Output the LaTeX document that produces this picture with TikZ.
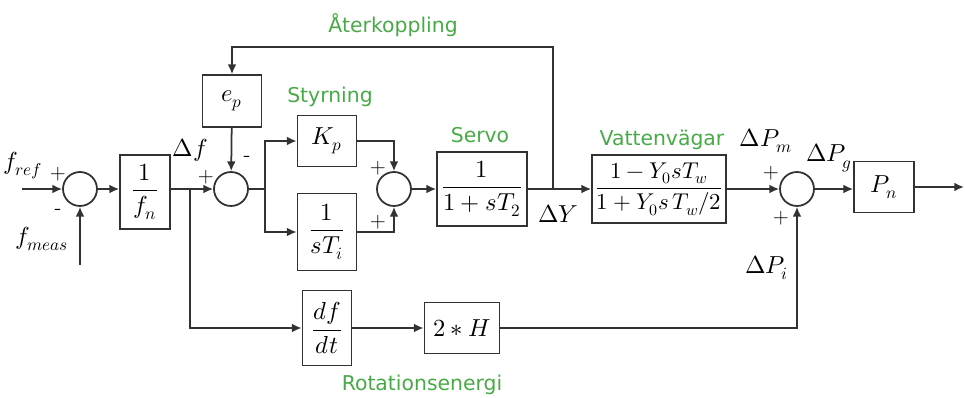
\documentclass[tikz,border=0pt]{standalone}
\usepackage{amsmath}
\usepackage{fontspec}
\usepackage{unicode-math}
\setmathfont{Latin Modern Math}
\usepackage{tikz}
\usetikzlibrary{arrows.meta}
\newfontfamily\lblfont{DejaVu Sans}
\definecolor{lblgreen}{RGB}{72,170,70}
\definecolor{linegray}{RGB}{50,50,50}
\newcommand{\mathsz}{\fontsize{14}{17}\selectfont}
\tikzset{node distance=2.0cm, auto}
\tikzset{
  block/.style={draw=linegray, line width=1pt, inner sep=0pt, font=\mathsz},
  sumnode/.style={draw=linegray, line width=1pt, circle, minimum size=0.68cm, inner sep=0pt},
  grlabel/.style={text=lblgreen, font=\lblfont\fontsize{11.6}{14}\selectfont},
  sgn/.style={font=\large, inner sep=0pt},
  sig/.style={font=\mathsz, inner sep=0pt},
  conn/.style={draw=linegray, line width=1pt},
  arr/.style={conn, -{Latex[length=5.5pt,width=5pt]}}
}

\begin{document}
\begin{tikzpicture}[x=0.02cm, y=-0.02cm]
\useasboundingbox (0,0) rectangle (965,398);

% summation points
\node[sumnode] (s1) at (80,189) {};
\node[sumnode] (s2) at (231,189) {};
\node[sumnode] (s3) at (394,189) {};
\node[sumnode] (s4) at (797,189) {};

% blocks
\node[block, minimum width=1cm, minimum height=1.48cm] (fn) at (145,192) {$\dfrac{1}{f_n}$};
\node[block, minimum width=1.18cm, minimum height=1.04cm] (ep) at (232,101) {$e_p$};
\node[block, minimum width=1.18cm, minimum height=1.02cm] (kp) at (327,141) {$K_p$};
\node[block, minimum width=1.18cm, minimum height=1.54cm] (sti) at (327,232) {$\dfrac{1}{sT_i}$};
\node[block, minimum width=1.8cm, minimum height=1.48cm] (servo) at (482,189) {$\dfrac{1}{1+sT_2}$};
\node[block, minimum width=2.68cm, minimum height=1.36cm, font=\fontsize{13}{16}\selectfont] (vat) at (659,189) {$\dfrac{1-Y_0sT_w}{1+Y_0s\,T_w/2}$};
\node[block, minimum width=1.2cm, minimum height=1.02cm] (pn) at (884,187) {$P_n$};
\node[block, minimum width=0.98cm, minimum height=1.5cm] (dfdt) at (327,328) {$\dfrac{df}{dt}$};
\node[block, minimum width=1.5cm, minimum height=1.02cm] (twoH) at (462,328) {$2*H$};

% free ends and branch points
\coordinate (in) at (22,189);
\coordinate (meas) at (80,265);
\coordinate (out) at (964,187);
\coordinate (b1) at (190,189);
\coordinate (b2) at (265,189);
\coordinate (b3) at (553,189);
\coordinate (top) at (553,47);
\coordinate (low) at (190,328);

% connectors
\draw[arr] (in) -- (s1);
\draw[arr] (meas) -- (s1);
\draw[arr] (s1) -- (fn.west |- s1);
\draw[arr] (fn.east |- s2) -- (s2);
\draw[arr] (ep) -- (s2);
\draw[conn] (s2) -- (b2);
\draw[arr] (b2) |- (kp);
\draw[arr] (b2) |- (sti);
\draw[arr] (kp) -| (s3);
\draw[arr] (sti) -| (s3);
\draw[arr] (s3) -- (servo);
\draw[arr] (servo) -- (vat);
\draw[arr] (b3) -- (top) -| (ep);
\draw[arr] (vat) -- (s4);
\draw[arr] (s4) -- (pn.west |- s4);
\draw[arr] (pn) -- (out);
\draw[arr] (b1) -- (low) -- (dfdt);
\draw[arr] (dfdt) -- (twoH);
\draw[arr] (twoH) -| (s4);

% signals and signs
\node[sig] (fref) at (23,166) {$f_{ref}$};
\node[sgn] (p1) at (58,174) {+};
\node[sgn] (m1) at (58,212) {-};
\node[sig] (fmeas) at (42,239) {$f_{meas}$};
\node[sig] (df) at (190,150) {$\Delta f$};
\node[sgn] (p2) at (206,177) {+};
\node[sgn] (m2) at (247,159) {-};
\node[sgn] (p3) at (378,168) {+};
\node[sgn] (p4) at (378,222) {+};
\node[sig] (dy) at (558,214) {$\Delta Y$};
\node[sig] (dpm) at (766,141) {$\Delta P_m$};
\node[sgn] (p5) at (771,173) {+};
\node[sgn] (p6) at (781,218) {+};
\node[sig] (dpg) at (829,158) {$\Delta P_g$};
\node[sig] (dpi) at (767,268) {$\Delta P_i$};

% green labels
\node[grlabel] (lstyr) at (330,97) {Styrning};
\node[grlabel] (lservo) at (480,135) {Servo};
\node[grlabel] (lvat) at (662,140) {Vattenvägar};
\node[grlabel] (later) at (393,25) {Återkoppling};
\node[grlabel] (lrot) at (422,385) {Rotationsenergi};
\end{tikzpicture}
\end{document}
